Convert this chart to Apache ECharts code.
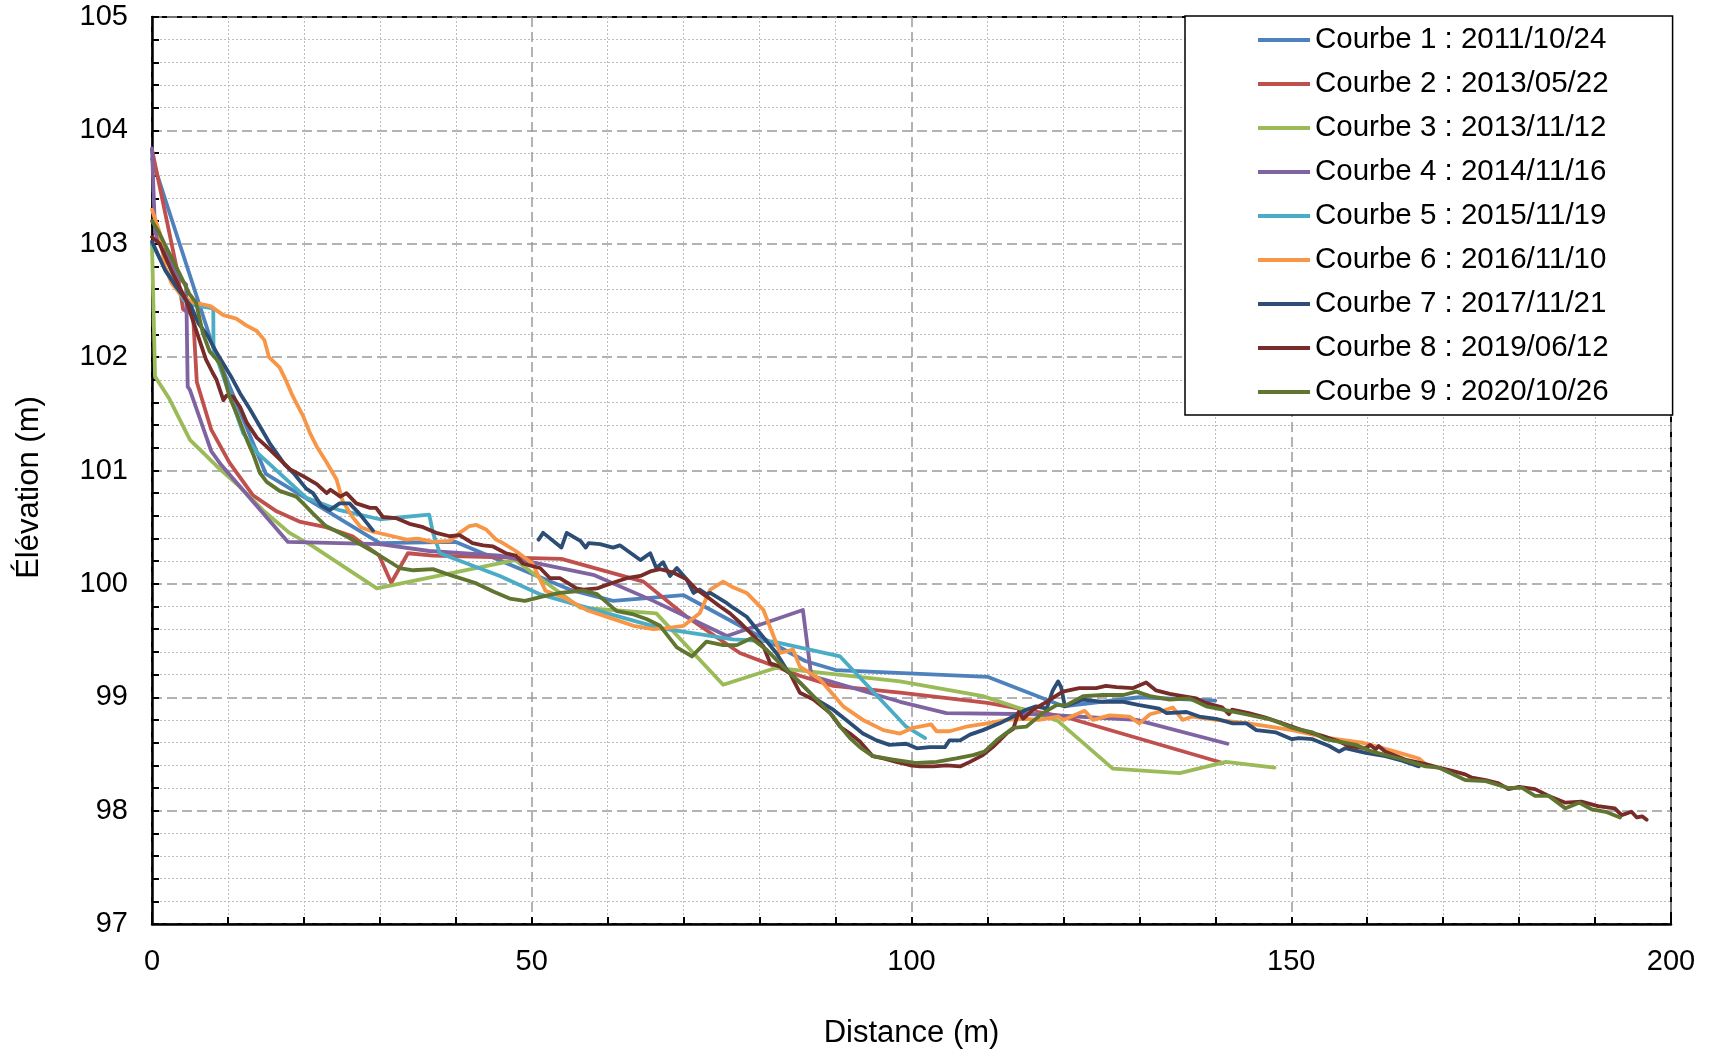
<!DOCTYPE html>
<html>
<head>
<meta charset="utf-8">
<title>Profils</title>
<script src="https://cdn.jsdelivr.net/npm/echarts@6.0.0/dist/echarts.min.js"></script>
<style>
  html, body { margin: 0; padding: 0; background: #fff; }
  #chart { width: 1715px; height: 1058px; }
</style>
</head>
<body>
<div id="chart"></div>
<script>
// profils en long : [distance (m), élévation (m)]
const names = [
  'Courbe 1 : 2011/10/24', 'Courbe 2 : 2013/05/22', 'Courbe 3 : 2013/11/12',
  'Courbe 4 : 2014/11/16', 'Courbe 5 : 2015/11/19', 'Courbe 6 : 2016/11/10',
  'Courbe 7 : 2017/11/21', 'Courbe 8 : 2019/06/12', 'Courbe 9 : 2020/10/26'
]
const colors = ['#4F81BD', '#C0504D', '#9BBB59', '#8064A2', '#4BACC6', '#F79646', '#2C4D75', '#772C2A', '#5F7530']

const courbe1 = [[0,103.75],[8,102.1],[15,100.97],[30,100.36],[40,100.37],[50,100.09],[55,99.95],[60.7,99.85],[70,99.9],[86,99.32],[90,99.24],[110,99.18],[120,98.92],[130,99.0],[140,98.97]]

const courbe2 = [[0,103.83],[3.2,102.8],[4.1,102.42],[5.4,102.38],[5.9,101.78],[7.8,101.36],[10.2,101.07],[13.3,100.78],[16.4,100.64],[19.4,100.55],[22.9,100.5],[26.4,100.42],[29.9,100.25],[31.5,100.01],[33.7,100.27],[37,100.25],[53.9,100.22],[64.7,100.02],[70.4,99.71],[77.4,99.39],[85.3,99.19],[89.7,99.1],[98.5,99.04],[110,98.95],[120,98.83],[141,98.42]]

const courbe3 = [[0,103.0],[0.4,101.83],[2.3,101.63],[5.0,101.27],[8.5,101.04],[11.5,100.86],[14.6,100.65],[18.1,100.45],[21.2,100.33],[29.6,99.96],[47.8,100.21],[56.4,99.79],[66.4,99.74],[75.2,99.11],[82.2,99.26],[98.5,99.14],[109.4,99.01],[119.3,98.79],[126.5,98.37],[135.3,98.33],[141.4,98.43],[147.8,98.38]]

const courbe4 = [[0,103.84],[0.4,103.1],[3.4,102.71],[4.5,102.64],[4.7,101.74],[5.0,101.71],[7.8,101.17],[9.1,101.05],[17.9,100.37],[30,100.35],[36.5,100.29],[45.8,100.25],[58.1,100.08],[66,99.85],[75.7,99.54],[85.7,99.77],[86.8,99.19],[98.5,98.96],[104.6,98.86],[116.4,98.85],[129.6,98.8],[141.6,98.59]]

const courbe5 = [[0,103.0],[2,102.75],[4.2,102.5],[5.2,102.46],[8.07,102.43],[8.1,102.06],[8.9,101.92],[12,101.33],[13.8,101.16],[20.3,100.76],[24.7,100.65],[30,100.57],[36.5,100.61],[37,100.45],[37.9,100.27],[45.8,100.07],[51,99.91],[56.8,99.8],[66.9,99.61],[76.5,99.51],[81.8,99.49],[90.6,99.36],[99.3,98.74],[101.8,98.64]]

const courbe6 = [[0,103.3],[1.0,103.1],[1.7,102.8],[2.6,102.65],[3.9,102.54],[5.5,102.48],[7.7,102.45],[9.4,102.37],[11.1,102.34],[12.4,102.28],[13.8,102.23],[14.8,102.15],[15.4,102.0],[16.8,101.91],[17.6,101.8],[18.5,101.66],[19.9,101.48],[20.8,101.33],[21.7,101.21],[23.0,101.07],[24.3,100.92],[25.1,100.73],[26.4,100.59],[27.5,100.5],[29.1,100.46],[31.7,100.42],[33.5,100.39],[35,100.4],[37,100.37],[39.3,100.38],[40.5,100.45],[41.8,100.51],[42.7,100.52],[44,100.48],[45.3,100.39],[46.2,100.36],[47.9,100.29],[50.1,100.18],[51.8,99.94],[54.2,99.88],[57.2,99.77],[60.3,99.7],[63.4,99.63],[66,99.6],[67.8,99.61],[70,99.63],[72.1,99.74],[73.5,99.95],[75.2,100.02],[76.5,99.97],[78.3,99.92],[80.5,99.77],[82.7,99.39],[84.4,99.42],[85.3,99.27],[87.9,99.16],[91,98.92],[93.6,98.8],[96.3,98.71],[98.5,98.68],[100.2,98.73],[102.6,98.76],[103.3,98.7],[105,98.7],[107.2,98.74],[110,98.77],[112.5,98.8],[115.1,98.81],[116.8,98.8],[119.3,98.83],[120,98.8],[122.8,98.88],[123.9,98.8],[126.1,98.84],[128.7,98.83],[130,98.77],[131.4,98.85],[133.1,98.88],[134.4,98.91],[135.7,98.8],[137,98.83],[140.1,98.8],[144.4,98.77],[150.1,98.71],[155,98.64],[159.3,98.6],[163.7,98.52],[166.8,98.46],[167.7,98.41]]

const courbe7a = [[0,103.02],[1.7,102.77],[3.2,102.62],[5.2,102.44],[6.1,102.3],[7.4,102.18],[8.5,102.04],[10.4,101.83],[11.6,101.68],[12.9,101.54],[14.2,101.39],[15.5,101.24],[17.5,101.05],[18.6,100.98],[20.3,100.84],[21.2,100.8],[22.3,100.69],[23.4,100.65],[24.7,100.71],[26,100.71],[27.3,100.62],[29.1,100.47]]
const courbe7b = [[50.9,100.39],[51.5,100.45],[53.9,100.32],[54.6,100.45],[56.4,100.38],[57.1,100.32],[57.5,100.36],[59,100.35],[60.7,100.32],[61.6,100.34],[64.3,100.21],[65.6,100.27],[66.4,100.14],[67.3,100.19],[68.2,100.07],[69.1,100.14],[70.4,100.04],[71.3,99.92],[72.1,99.95],[73,99.91],[73.5,99.92],[75.7,99.83],[76.5,99.79],[78.3,99.71],[80,99.57],[82.2,99.39],[83.6,99.24],[85.3,99.13],[87.5,98.98],[89.7,98.89],[91.4,98.8],[93.6,98.68],[95.4,98.62],[97.1,98.58],[99.3,98.59],[100.7,98.55],[102.4,98.56],[104.4,98.56],[105,98.62],[106.4,98.62],[107.7,98.67],[109.4,98.71],[111.6,98.77],[113.4,98.83],[115.1,98.89],[116.4,98.92],[117.8,98.9],[118.6,99.06],[119.3,99.14],[119.7,99.09],[120.2,98.92],[122.6,98.98],[125.2,98.96],[127.9,98.96],[130,98.93],[132.6,98.9],[133.6,98.86],[136.2,98.87],[137.9,98.83],[140.1,98.81],[142.3,98.77],[144.1,98.77],[145.4,98.71],[148,98.69],[150.1,98.63],[151,98.64],[152.8,98.63],[155,98.57],[156.3,98.52],[157.1,98.55],[159.8,98.51],[162.4,98.48],[164.6,98.44],[166.8,98.39]]

const courbe8 = [[0,103.06],[1,103.0],[2.7,102.74],[4.5,102.5],[5.8,102.24],[7.1,101.98],[8.0,101.86],[8.5,101.8],[9.4,101.62],[9.8,101.66],[10.7,101.65],[11.6,101.56],[12.5,101.42],[13.8,101.29],[15.1,101.21],[16.8,101.1],[18.2,101.01],[19.9,100.95],[21.7,100.88],[23,100.8],[23.5,100.83],[24.8,100.77],[25.6,100.8],[26.9,100.71],[28.7,100.67],[29.5,100.67],[30.4,100.59],[32.1,100.58],[33.9,100.53],[35.7,100.5],[37.4,100.45],[39.2,100.42],[40.5,100.43],[42.2,100.36],[43.6,100.34],[44.9,100.33],[46.6,100.27],[47.9,100.25],[48.8,100.18],[49.9,100.16],[51.1,100.14],[52.4,100.05],[53.7,100.05],[55.9,99.96],[56.8,99.95],[58.6,99.96],[59.4,99.98],[60.7,100.01],[62.5,100.05],[64.3,100.07],[65.6,100.11],[66.9,100.13],[68.6,100.1],[70.4,100.04],[71.7,99.95],[73,99.89],[74.8,99.8],[76.1,99.74],[77.4,99.66],[79.2,99.54],[80.5,99.45],[81.4,99.3],[82.7,99.27],[84,99.21],[85.3,99.04],[87.1,98.98],[89.3,98.86],[90.6,98.74],[91.9,98.68],[93.2,98.61],[94.9,98.48],[96.3,98.46],[98,98.43],[99.8,98.4],[101.1,98.39],[102.9,98.39],[104.6,98.4],[106.4,98.39],[107.7,98.43],[109.4,98.49],[110.7,98.56],[112.5,98.68],[113.4,98.72],[114.1,98.87],[114.7,98.81],[116,98.89],[117.8,98.96],[119.9,99.05],[122.1,99.08],[124.3,99.08],[125.6,99.1],[127,99.09],[129.1,99.08],[130.9,99.13],[132.2,99.06],[134,99.03],[135.7,99.01],[137.5,98.99],[138.7,98.95],[140.9,98.91],[141.8,98.85],[142.2,98.89],[144.4,98.86],[146.6,98.82],[149.3,98.76],[151.4,98.71],[154.1,98.66],[156.3,98.61],[157.6,98.57],[159.8,98.55],[160.4,98.58],[161.1,98.54],[161.5,98.57],[162.4,98.52],[165,98.45],[167.7,98.41],[169.4,98.38],[171.2,98.35],[172.9,98.32],[173.8,98.29],[175.6,98.27],[177.3,98.24],[178.6,98.19],[180,98.21],[182.1,98.19],[183.9,98.13],[186.1,98.07],[188.2,98.08],[190.4,98.04],[192.6,98.02],[193.5,97.96],[194.8,97.99],[195.5,97.94],[196.2,97.95],[196.8,97.92]]

const courbe9 = [[0,103.2],[1.0,103.09],[1.8,102.98],[3.6,102.74],[4.9,102.56],[5.8,102.48],[6.2,102.36],[6.7,102.21],[7.6,102.05],[8.9,101.95],[9.4,101.86],[10.2,101.65],[11.1,101.51],[12.5,101.27],[13.4,101.13],[14.2,100.98],[15.1,100.9],[16.8,100.82],[19,100.77],[19.9,100.71],[21.2,100.62],[22.9,100.51],[25.6,100.42],[29.5,100.27],[32.6,100.14],[34.4,100.12],[37,100.13],[39.6,100.07],[42.5,100.01],[45,99.93],[47.1,99.87],[49.1,99.85],[51.5,99.89],[53.7,99.92],[56.8,99.94],[58.6,99.91],[61.2,99.76],[63.4,99.73],[65.1,99.69],[66.9,99.63],[69.1,99.44],[71.1,99.36],[73,99.49],[75.2,99.46],[77,99.46],[78.9,99.52],[80.9,99.42],[83.1,99.27],[85.3,99.13],[87.5,98.98],[89.7,98.83],[91,98.71],[91.9,98.64],[93.2,98.56],[94.9,98.48],[97.6,98.45],[100.7,98.42],[103.3,98.43],[105.9,98.46],[108.1,98.49],[109.6,98.52],[111.2,98.62],[113.4,98.73],[115.1,98.74],[117.3,98.86],[119.1,98.93],[120.4,98.93],[122.6,99.01],[125.2,99.02],[127.9,99.02],[129.6,99.05],[131.4,99.01],[134,98.98],[136.6,98.99],[138.8,98.92],[141.8,98.88],[144,98.85],[147.5,98.8],[150.1,98.73],[152.8,98.69],[154.5,98.63],[158.5,98.58],[160.7,98.52],[164.2,98.46],[167.7,98.39],[169.4,98.38],[172.9,98.27],[175.6,98.26],[178.6,98.2],[180.4,98.2],[182.1,98.13],[183.9,98.13],[186.1,98.02],[187.9,98.07],[189.6,98.01],[191.4,97.99],[193.3,97.94]]

// la courbe 7 a une lacune entre 29 m et 51 m
const courbe7 = courbe7a.concat([[null, null]], courbe7b)

const allData = [courbe1, courbe2, courbe3, courbe4, courbe5, courbe6, courbe7, courbe8, courbe9]

const font = 'Liberation Sans, Arial, sans-serif'
const chart = echarts.init(document.getElementById('chart'))

const option = {
  animation: false,
  backgroundColor: '#fff',
  textStyle: { fontFamily: font },
  grid: {
    left: 152,
    right: 44,
    top: 17,
    bottom: 134,
    show: true,
    borderColor: '#000',
    borderWidth: 2
  },
  legend: {
    orient: 'vertical',
    left: 1185,
    top: 16,
    padding: [9, 64, 8, 73],
    itemGap: 14,
    itemWidth: 52,
    itemHeight: 4,
    icon: 'rect',
    borderColor: '#000',
    borderWidth: 1.5,
    backgroundColor: '#fff',
    textStyle: { fontSize: 29.5, color: '#000', fontFamily: font },
    data: names
  },
  xAxis: {
    type: 'value',
    min: 0,
    max: 200,
    interval: 50,
    name: 'Distance (m)',
    nameLocation: 'middle',
    nameGap: 94,
    nameTextStyle: { fontSize: 31, color: '#000', fontFamily: font },
    axisLine: { lineStyle: { color: '#000', width: 2.5 } },
    axisTick: { inside: true, length: 7, lineStyle: { color: '#000', width: 2 } },
    minorTick: { show: true, splitNumber: 5, length: 7, lineStyle: { color: '#000', width: 2 } },
    axisLabel: { fontSize: 29, color: '#000', margin: 23, fontFamily: font },
    splitLine: { show: true, lineStyle: { color: '#9a9a9a', width: 1.5, type: [10, 5] } },
    minorSplitLine: { show: true, lineStyle: { color: '#bdbdbd', width: 1, type: [2, 2] } }
  },
  yAxis: {
    type: 'value',
    min: 97,
    max: 105,
    interval: 1,
    name: 'Élévation (m)',
    nameLocation: 'middle',
    nameGap: 107,
    nameRotate: 90,
    nameTextStyle: { fontSize: 31, color: '#000', fontFamily: font, padding: [0, 34, 0, 0] },
    axisLine: { show: true, lineStyle: { color: '#000', width: 2.5 } },
    axisTick: { show: true, inside: true, length: 7, lineStyle: { color: '#000', width: 2 } },
    minorTick: { show: true, splitNumber: 5, length: 7, lineStyle: { color: '#000', width: 2 } },
    axisLabel: { fontSize: 29, color: '#000', margin: 24, fontFamily: font },
    splitLine: { show: true, lineStyle: { color: '#9a9a9a', width: 1.5, type: [10, 5] } },
    minorSplitLine: { show: true, lineStyle: { color: '#bdbdbd', width: 1, type: [2, 2] } }
  },
  series: names.map((name, i) => ({
    name: name,
    type: 'line',
    data: allData[i],
    showSymbol: false,
    symbol: 'none',
    connectNulls: false,
    color: colors[i],
    lineStyle: { color: colors[i], width: 3.8, join: 'round', cap: 'round' }
  }))
}

chart.setOption(option)
</script>
</body>
</html>
